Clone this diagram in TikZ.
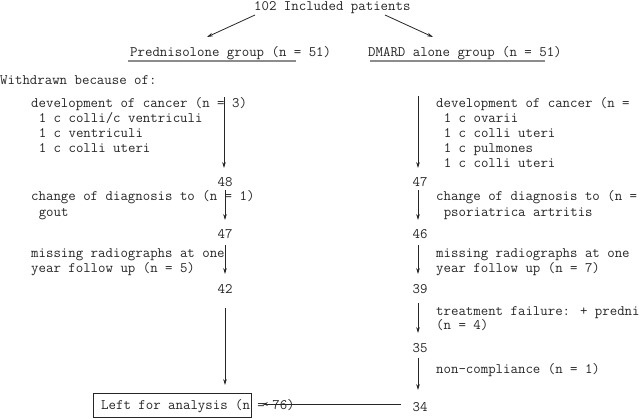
\documentclass[tikz,border=0pt]{standalone}
\usepackage{fontspec}
\usetikzlibrary{arrows.meta}
\newcommand\courf{\ttfamily\fontsize{14.45}{15}\selectfont}
\tikzset{
  txt/.style={anchor=base west, inner sep=0pt, font=\courf, text=black!85},
  num/.style={anchor=base, inner sep=0pt, font=\courf, text=black!85},
  arr/.style={draw=black!85, line width=0.8pt, -{Stealth[length=6pt,width=3.6pt]}},
  uline/.style={draw=black!45, line width=1.6pt},
  boxst/.style={draw=black!85, line width=0.9pt}
}
\begin{document}
\begin{tikzpicture}[x=1pt,y=-1pt]
\useasboundingbox (0,0) rectangle (640,418);
\clip (0,0) rectangle (640,418);
% header
\node[txt] (top) at (254,10.5) {102 Included patients};
\node[txt] (pred) at (130,56) {Prednisolone group (n = 51)};
\node[txt] (dmard) at (368,56) {DMARD alone group (n = 51)};
\coordinate (tl) at (255,15); \coordinate (tlend) at (207,37);
\coordinate (tr) at (385,15); \coordinate (trend) at (433,37);
\draw[arr] (tl) -- (tlend);
\draw[arr] (tr) -- (trend);
\coordinate (ulpa) at (128,61); \coordinate (ulpb) at (296,61);
\coordinate (ulda) at (370,61); \coordinate (uldb) at (545,61);
\draw[uline] (ulpa) -- (ulpb);
\draw[uline] (ulda) -- (uldb);
\node[txt] (withdrawn) at (0,84) {Withdrawn because of:};
% left column
\node[txt] (ldev) at (31,107) {development of cancer (n = 3)};
\node[txt] (ldev1) at (38.6,122) {1 c colli/c ventriculi};
\node[txt] (ldev2) at (38.6,137) {1 c ventriculi};
\node[txt] (ldev3) at (38.6,152) {1 c colli uteri};
\node[num] (l48) at (225,186) {48};
\node[txt] (lchg) at (31,200) {change of diagnosis to (n = 1)};
\node[txt] (lchg1) at (38.6,216) {gout};
\node[num] (l47) at (225,238) {47};
\node[txt] (lmis) at (31,257) {missing radiographs at one};
\node[txt] (lmis1) at (31,272) {year follow up (n = 5)};
\node[num] (l42) at (225,293) {42};
\node[boxst, minimum width=158pt, minimum height=24pt, inner sep=0pt] (box) at (172,405) {};
\node[txt] (left) at (101,409) {Left for analysis (n = 76)};
% right column
\node[txt] (rdev) at (436,107) {development of cancer (n =};
\node[txt] (rdev1) at (443.6,122) {1 c ovarii};
\node[txt] (rdev2) at (443.6,137) {1 c colli uteri};
\node[txt] (rdev3) at (443.6,152) {1 c pulmones};
\node[txt] (rdev4) at (443.6,167) {1 c colli uteri};
\node[num] (r47) at (420,186) {47};
\node[txt] (rchg) at (436,200) {change of diagnosis to (n =};
\node[txt] (rchg1) at (443.6,216) {psoriatrica artritis};
\node[num] (r46) at (420,238) {46};
\node[txt] (rmis) at (436,257) {missing radiographs at one};
\node[txt] (rmis1) at (436,272) {year follow up (n = 7)};
\node[num] (r39) at (420,293) {39};
\node[txt] (rtf) at (436,315) {treatment failure: + predni};
\node[txt] (rtf1) at (436,329) {(n = 4)};
\node[num] (r35) at (420,352) {35};
\node[txt] (rnc) at (436,373) {non-compliance (n = 1)};
\node[num] (r34) at (420,411) {34};
% left arrows
\coordinate (la1) at (224,97);  \coordinate (la1e) at (224,168);
\coordinate (la2) at (225,190); \coordinate (la2e) at (225,220);
\coordinate (la3) at (225,245); \coordinate (la3e) at (225,274);
\coordinate (la4) at (225,308); \coordinate (la4e) at (225,385);
\draw[arr] (la1) -- (la1e);
\draw[arr] (la2) -- (la2e);
\draw[arr] (la3) -- (la3e);
\draw[arr] (la4) -- (la4e);
% right arrows
\coordinate (ra1) at (418,96);  \coordinate (ra1e) at (418,168);
\coordinate (ra2) at (418,190); \coordinate (ra2e) at (418,220);
\coordinate (ra3) at (418,245); \coordinate (ra3e) at (418,274);
\coordinate (ra4) at (418,303); \coordinate (ra4e) at (418,333);
\coordinate (ra5) at (418,358); \coordinate (ra5e) at (418,390);
\draw[arr] (ra1) -- (ra1e);
\draw[arr] (ra2) -- (ra2e);
\draw[arr] (ra3) -- (ra3e);
\draw[arr] (ra4) -- (ra4e);
\draw[arr] (ra5) -- (ra5e);
% bottom horizontal
\coordinate (h1) at (401,404); \coordinate (h1e) at (262,404);
\draw[arr] (h1) -- (h1e);
\end{tikzpicture}
\end{document}
